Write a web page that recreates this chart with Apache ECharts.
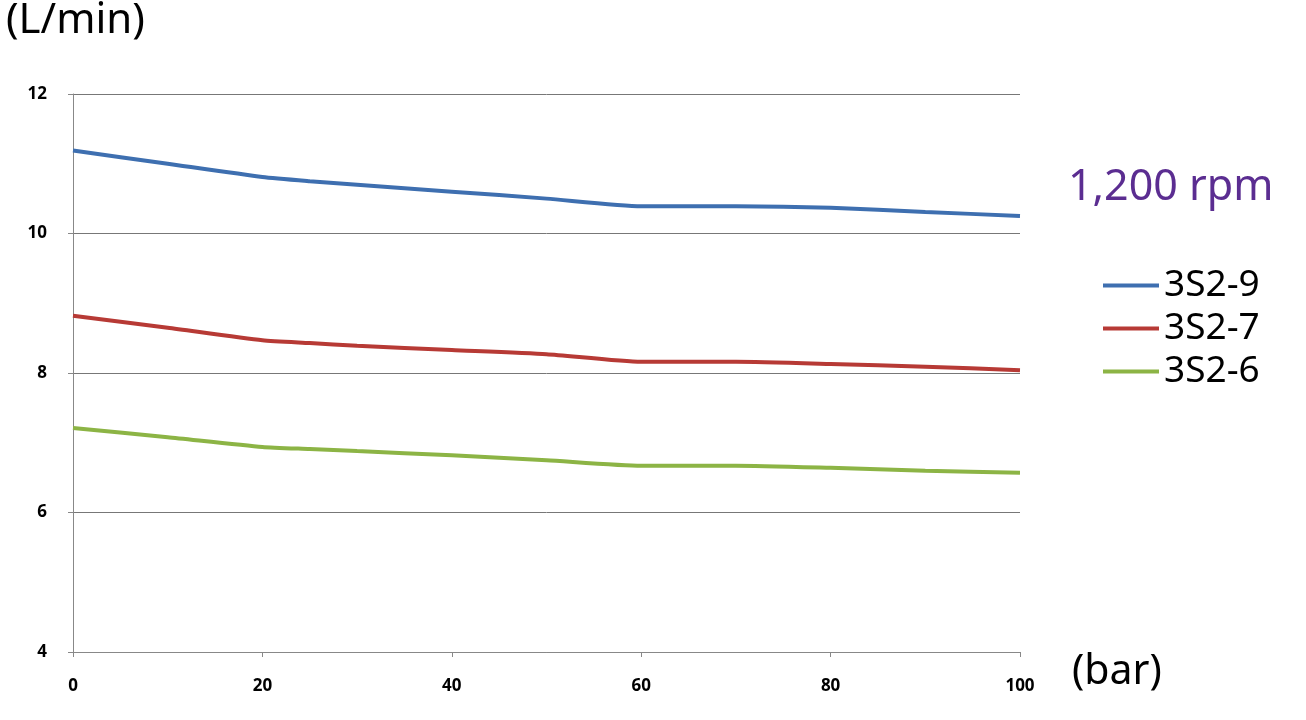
<!DOCTYPE html>
<html><head><meta charset="utf-8">
<script src="https://cdn.jsdelivr.net/npm/echarts@6/dist/echarts.min.js"></script>
<style>html,body{margin:0;background:#fff}#c{width:1306px;height:720px}</style>
</head><body><div id="c"></div>
<script>
const pressure = [0, 10, 20, 25, 30, 40, 50, 60, 70, 80, 90, 100];
const s3S2_9 = [11.19, 11.0, 10.81, 10.75, 10.70, 10.60, 10.50, 10.39, 10.39, 10.37, 10.31, 10.25];
const s3S2_7 = [8.82, 8.65, 8.47, 8.43, 8.39, 8.33, 8.27, 8.16, 8.16, 8.13, 8.09, 8.04];
const s3S2_6 = [7.21, 7.08, 6.94, 6.91, 6.88, 6.82, 6.75, 6.67, 6.67, 6.64, 6.60, 6.57];
const names = ['3S2-9', '3S2-7', '3S2-6'];
const colors = ['#3e6fb0', '#b73a35', '#8cb445'];
const font = 'Noto Sans';
const mk = (a) => pressure.map((x, i) => [x, a[i]]);
const chart = echarts.init(document.getElementById('c'));
chart.setOption({
  animation: false,
  textStyle: { fontFamily: font },
  grid: { left: 73, right: 286, top: 94, bottom: 68 },
  graphic: [
    { type: 'text', left: 6, top: 0, style: { text: '(L/min)', fontSize: 42, fontFamily: font, fill: '#000' } },
    { type: 'text', left: 1072, top: 652, style: { text: '(bar)', fontSize: 41, fontFamily: font, fill: '#000' } },
    { type: 'text', left: 1068, top: 166, style: { text: '1,200 rpm', fontSize: 43, fontFamily: font, fill: '#5b2d91' } }
  ],
  legend: {
    orient: 'vertical', left: 1098, top: 262, itemGap: 6, itemWidth: 56, itemHeight: 4,
    icon: 'rect', textStyle: { fontSize: 37, fontFamily: font, color: '#000', padding: [0, 0, 0, 0] },
    data: names
  },
  xAxis: {
    type: 'value', min: 0, max: 100, interval: 20,
    axisLine: { lineStyle: { color: '#888' } },
    axisTick: { show: true, length: 5, lineStyle: { color: '#888' } },
    axisLabel: { fontSize: 17, color: '#000', fontWeight: 'bold', margin: 26 },
    splitLine: { show: false }
  },
  yAxis: {
    type: 'value', min: 4, max: 12, interval: 2,
    axisLine: { show: true, lineStyle: { color: '#888' } },
    axisTick: { show: true, length: 5, lineStyle: { color: '#888' } },
    axisLabel: { fontSize: 17, color: '#000', fontWeight: 'bold', margin: 26 },
    splitLine: { lineStyle: { color: '#777', width: 1 } }
  },
  series: [s3S2_9, s3S2_7, s3S2_6].map((d, i) => ({
    name: names[i], type: 'line', data: mk(d), showSymbol: false, smooth: 0.2,
    lineStyle: { width: 4, color: colors[i] }, itemStyle: { color: colors[i] }
  }))
});
</script></body></html>
